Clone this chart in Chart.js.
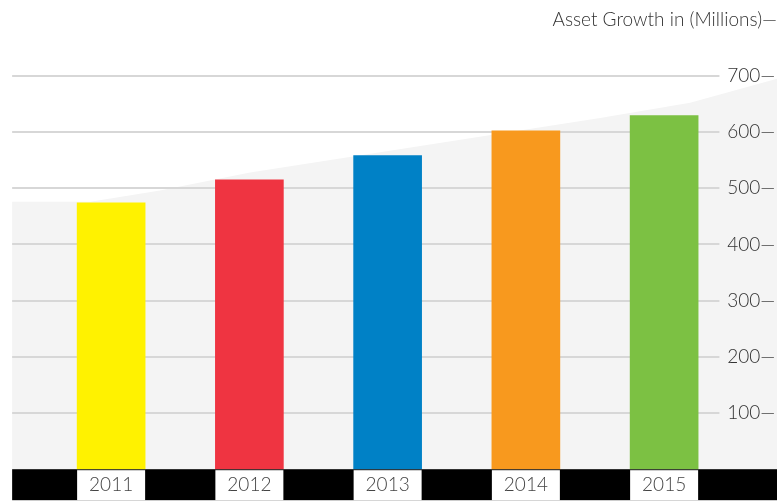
<!DOCTYPE html>
<html>
<head>
<meta charset="utf-8">
<script src="https://cdn.jsdelivr.net/npm/chart.js@4.4.1/dist/chart.umd.min.js"></script>
<style>
  html, body { margin: 0; padding: 0; background: #fff; }
  canvas { display: block; }
</style>
</head>
<body>
<canvas id="assetChart" width="777" height="502"></canvas>
<script>
// chart values
const years = ['2011', '2012', '2013', '2014', '2015'];
const assetGrowth = [474, 515, 558, 602, 629];
const barColors = ['#fff200', '#ef3441', '#0081c6', '#f8991e', '#7cc143'];
const axisMax = 700;
const axisStep = 100;

// grey backdrop behind the bars (category units, axis values)
const backdropAt = [-0.716, -0.15, 0.354, 1.005, 3.537, 4.188, 4.817];
const backdropTop = [476, 476, 496, 528, 625, 652, 695];

const FONT = "Lato, 'Open Sans', sans-serif";

// background, grid, bottom band
const decorPlugin = {
    id: 'decor',
    beforeDraw(chart) {
        const ctx = chart.ctx;
        const x = chart.scales.x;
        const y = chart.scales.y;
        const base = y.getPixelForValue(0);
        const left = x.getPixelForValue(backdropAt[0]);

        ctx.save();
        ctx.fillStyle = '#ffffff';
        ctx.fillRect(0, 0, chart.width, chart.height);

        // grey shape
        ctx.fillStyle = '#f4f4f4';
        ctx.beginPath();
        ctx.moveTo(left, base);
        backdropAt.forEach((u, i) => {
            ctx.lineTo(x.getPixelForValue(u), y.getPixelForValue(backdropTop[i]));
        });
        ctx.lineTo(x.getPixelForValue(backdropAt[backdropAt.length - 1]), base);
        ctx.closePath();
        ctx.fill();

        // horizontal grid lines
        const gridEnd = x.getPixelForValue(4.4);
        ctx.strokeStyle = '#d7d7d7';
        ctx.lineWidth = 2;
        y.ticks.forEach(t => {
            if (t.value === 0) return;
            const py = Math.round(y.getPixelForValue(t.value));
            ctx.beginPath();
            ctx.moveTo(left, py);
            ctx.lineTo(gridEnd, py);
            ctx.stroke();
        });

        // black band with white label boxes
        ctx.fillStyle = '#000000';
        ctx.fillRect(left, base, chart.width - left, 31);
        ctx.fillStyle = '#ffffff';
        chart.getDatasetMeta(0).data.forEach(bar => {
            ctx.fillRect(bar.x - bar.width / 2, base + 1, bar.width, 30);
        });
        ctx.restore();
    }
};

new Chart(document.getElementById('assetChart'), {
    type: 'bar',
    data: {
        labels: years,
        datasets: [{
            label: 'Asset Growth',
            data: assetGrowth,
            backgroundColor: barColors,
            borderWidth: 0,
            barThickness: 68
        }]
    },
    options: {
        responsive: false,
        animation: false,
        layout: {
            padding: { left: 42, right: 0, top: 0, bottom: 2 }
        },
        plugins: {
            legend: { display: false },
            tooltip: { enabled: false },
            title: {
                display: true,
                text: 'Asset Growth in (Millions)—',
                align: 'end',
                color: '#333333',
                font: { family: FONT, size: 19, weight: '300' },
                padding: { top: 8, bottom: 45 }
            }
        },
        scales: {
            x: {
                offset: true,
                grid: { display: false, drawTicks: false },
                border: { display: false },
                ticks: {
                    color: '#444444',
                    padding: 4,
                    font: { family: FONT, size: 19, weight: '300' }
                }
            },
            y: {
                position: 'right',
                min: 0,
                max: axisMax,
                grid: { display: false, drawTicks: false },
                border: { display: false },
                afterFit(scale) {
                    scale.width = 43.75;
                    scale.paddingTop = 0;
                    scale.paddingBottom = 0;
                },
                ticks: {
                    stepSize: axisStep,
                    mirror: true,
                    padding: 42,
                    color: '#333333',
                    font: { family: FONT, size: 19, weight: '300' },
                    callback: v => (v === 0 ? '' : v + '—')
                }
            }
        }
    },
    plugins: [decorPlugin]
});
</script>
</body>
</html>
